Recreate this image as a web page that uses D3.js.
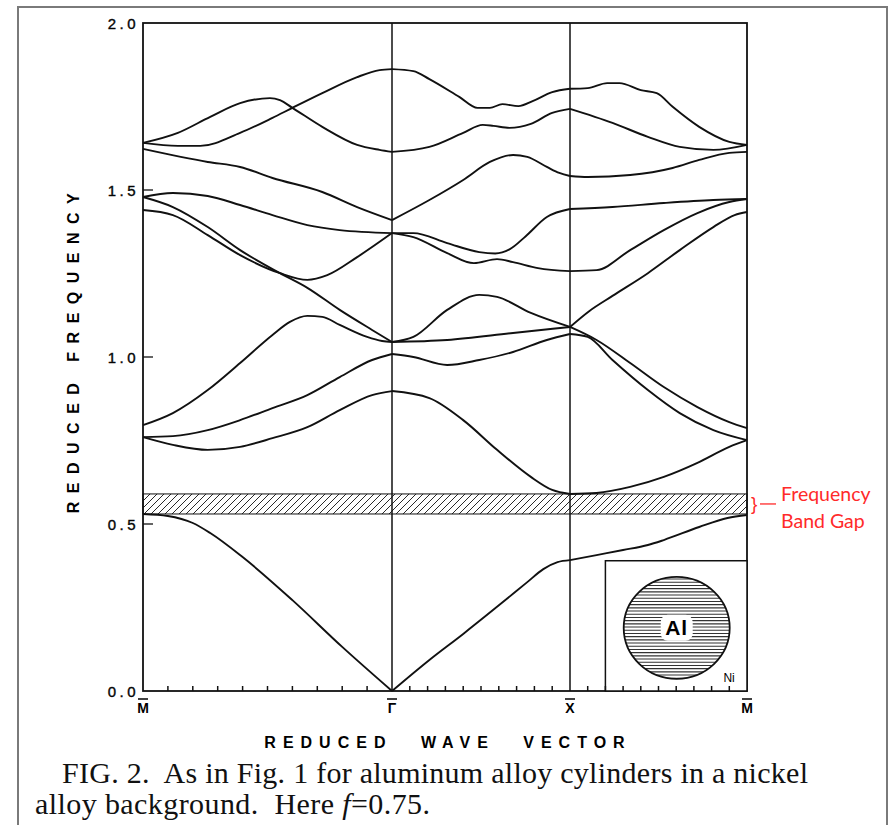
<!DOCTYPE html>
<html>
<head>
<meta charset="utf-8">
<script src="https://cdn.jsdelivr.net/npm/d3@7"></script>
<style>
  body { margin: 0; background: #fff; }
  svg { display: block; }
  text { white-space: pre; }
</style>
</head>
<body>
<svg id="chart" width="892" height="825"></svg>
<script>
// symmetry points along the path, one unit per segment
var kLabels = ["M", "\u0393", "X", "M"];
var yTicks = [0, 0.5, 1.0, 1.5, 2.0];
var gapBand = [0.53, 0.59];

// bands, [k, reduced frequency]
// segment M -> Gamma
var bandsMG = [
  [[0,0.530],[0.10,0.524],[0.20,0.503],[0.27,0.473],[0.40,0.401],[0.60,0.272],[0.80,0.132],[1,0]],
  [[0,0.760],[0.12,0.737],[0.26,0.722],[0.39,0.731],[0.52,0.757],[0.66,0.790],[0.79,0.841],[0.92,0.886],[1,0.898]],
  [[0,0.760],[0.12,0.763],[0.26,0.781],[0.39,0.811],[0.52,0.847],[0.66,0.886],[0.79,0.940],[0.92,0.991],[1,1.009]],
  [[0,0.796],[0.12,0.832],[0.26,0.901],[0.39,0.982],[0.52,1.066],[0.59,1.105],[0.66,1.123],[0.72,1.120],[0.79,1.096],[0.90,1.060],[0.96,1.048],[1,1.045]],
  [[0,1.479],[0.12,1.449],[0.26,1.389],[0.39,1.320],[0.55,1.251],[0.66,1.207],[0.79,1.141],[0.92,1.081],[1,1.045]],
  [[0,1.440],[0.12,1.425],[0.26,1.365],[0.39,1.305],[0.55,1.251],[0.66,1.231],[0.74,1.245],[0.86,1.299],[1,1.371]],
  [[0,1.479],[0.12,1.491],[0.26,1.482],[0.39,1.455],[0.52,1.425],[0.66,1.395],[0.79,1.380],[1,1.371]],
  [[0,1.623],[0.26,1.584],[0.39,1.569],[0.52,1.536],[0.72,1.494],[0.86,1.449],[1,1.410]],
  [[0,1.641],[0.14,1.671],[0.27,1.719],[0.39,1.760],[0.51,1.775],[0.55,1.769],[0.60,1.746],[0.72,1.689],[0.86,1.635],[0.95,1.620],[1,1.614]],
  [[0,1.641],[0.14,1.632],[0.23,1.632],[0.39,1.671],[0.52,1.716],[0.60,1.746],[0.72,1.790],[0.86,1.838],[0.95,1.859],[1,1.862]]
];

// segment Gamma -> X
var bandsGX = [
  [[1,0],[1.21,0.093],[1.40,0.171],[1.59,0.252],[1.76,0.326],[1.85,0.365],[1.93,0.386],[2,0.392]],
  [[1,0.898],[1.21,0.877],[1.40,0.811],[1.59,0.722],[1.78,0.641],[1.90,0.602],[2,0.590]],
  [[1,1.009],[1.12,1.000],[1.31,0.976],[1.49,0.991],[1.68,1.015],[1.87,1.051],[2,1.069]],
  [[1,1.045],[1.31,1.051],[1.68,1.072],[2,1.090]],
  [[1,1.045],[1.12,1.060],[1.31,1.141],[1.49,1.186],[1.59,1.180],[1.78,1.132],[2,1.090]],
  [[1,1.371],[1.12,1.359],[1.31,1.311],[1.46,1.281],[1.59,1.293],[1.68,1.284],[1.82,1.266],[2,1.257]],
  [[1,1.371],[1.12,1.371],[1.31,1.341],[1.49,1.314],[1.58,1.310],[1.66,1.322],[1.75,1.361],[1.87,1.419],[2,1.443]],
  [[1,1.410],[1.21,1.470],[1.40,1.530],[1.55,1.584],[1.68,1.605],[1.76,1.599],[1.87,1.569],[1.94,1.551],[2,1.542]],
  [[1,1.614],[1.21,1.629],[1.40,1.671],[1.51,1.695],[1.57,1.692],[1.66,1.686],[1.78,1.698],[1.90,1.731],[2,1.743]],
  [[1,1.862],[1.12,1.856],[1.21,1.832],[1.38,1.778],[1.48,1.746],[1.55,1.746],[1.62,1.757],[1.71,1.751],[1.79,1.766],[1.90,1.793],[2,1.803]]
];

// segment X -> M
var bandsXM = [
  [[2,0.392],[2.15,0.407],[2.30,0.422],[2.44,0.437],[2.53,0.452],[2.73,0.491],[2.89,0.518],[3,0.527]],
  [[2,0.590],[2.15,0.593],[2.34,0.611],[2.53,0.641],[2.72,0.683],[2.90,0.731],[3,0.751]],
  [[2,1.069],[2.10,1.060],[2.24,0.991],[2.44,0.901],[2.62,0.832],[2.81,0.781],[3,0.751]],
  [[2,1.090],[2.15,1.051],[2.34,0.982],[2.53,0.910],[2.72,0.850],[2.90,0.805],[3,0.787]],
  [[2,1.090],[2.11,1.138],[2.24,1.183],[2.44,1.251],[2.62,1.320],[2.81,1.389],[2.93,1.425],[3,1.434]],
  [[2,1.257],[2.15,1.260],[2.34,1.320],[2.53,1.380],[2.72,1.431],[2.90,1.464],[3,1.473]],
  [[2,1.443],[2.24,1.449],[2.53,1.461],[2.81,1.470],[3,1.473]],
  [[2,1.542],[2.10,1.539],[2.34,1.545],[2.58,1.566],[2.73,1.590],[2.90,1.611],[3,1.614]],
  [[2,1.743],[2.24,1.701],[2.44,1.659],[2.62,1.629],[2.81,1.620],[3,1.635]],
  [[2,1.803],[2.10,1.805],[2.21,1.820],[2.28,1.820],[2.40,1.799],[2.49,1.790],[2.58,1.749],[2.73,1.689],[2.90,1.644],[3,1.635]]
];

var caption1 = "FIG. 2.  As in Fig. 1 for aluminum alloy cylinders in a nickel";
var caption2a = "alloy background.  Here ";
var caption2b = "=0.75.";

var svg = d3.select("#chart");

var x = d3.scaleLinear().domain([0, 1, 2, 3]).range([143, 392, 570, 747]);
var y = d3.scaleLinear().domain([0, 2]).range([691, 23]);

// screenshot frame
svg.append("rect")
  .attr("x", 18).attr("y", 7)
  .attr("width", 869).attr("height", 840)
  .style("fill", "none")
  .style("stroke", "#7a7a7a")
  .style("stroke-width", 2);

var defs = svg.append("defs");
defs.append("pattern")
  .attr("id", "hatch")
  .attr("patternUnits", "userSpaceOnUse")
  .attr("width", 7).attr("height", 7)
  .append("path")
  .attr("d", "M-1,1 l2,-2 M0,7 l7,-7 M6,8 l2,-2")
  .style("stroke", "#111")
  .style("stroke-width", 0.9);

// band gap
svg.append("rect")
  .attr("x", x(0))
  .attr("y", y(gapBand[1]))
  .attr("width", x(3) - x(0))
  .attr("height", y(gapBand[0]) - y(gapBand[1]))
  .style("fill", "url(#hatch)")
  .style("stroke", "#111")
  .style("stroke-width", 1);

// plot frame and symmetry lines
svg.append("rect")
  .attr("x", x(0)).attr("y", y(2))
  .attr("width", x(3) - x(0)).attr("height", y(0) - y(2))
  .style("fill", "none")
  .style("stroke", "#111")
  .style("stroke-width", 1.8);

svg.selectAll("line.sym")
  .data([1, 2])
  .enter().append("line")
  .attr("class", "sym")
  .attr("x1", function (d) { return x(d); })
  .attr("x2", function (d) { return x(d); })
  .attr("y1", y(2)).attr("y2", y(0))
  .style("stroke", "#111")
  .style("stroke-width", 1.5);

// inset: Al cylinder in Ni
var inset = svg.append("g");
inset.append("rect")
  .attr("x", x(2.2)).attr("y", y(0.39))
  .attr("width", x(3) - x(2.2)).attr("height", y(0) - y(0.39))
  .style("fill", "#fff")
  .style("stroke", "#111")
  .style("stroke-width", 1.5);

var cx = (x(2.2) + x(3)) / 2 + 0.5;
var cy = (y(0.39) + y(0)) / 2 + 2;
defs.append("clipPath")
  .attr("id", "cyl")
  .append("ellipse")
  .attr("cx", cx).attr("cy", cy).attr("rx", 53).attr("ry", 51);

inset.append("g")
  .attr("clip-path", "url(#cyl)")
  .selectAll("line")
  .data(d3.range(cy - 52, cy + 52, 3.2))
  .enter().append("line")
  .attr("x1", cx - 55).attr("x2", cx + 55)
  .attr("y1", function (d) { return d; })
  .attr("y2", function (d) { return d; })
  .style("stroke", "#333")
  .style("stroke-width", 1.1);

inset.append("ellipse")
  .attr("cx", cx).attr("cy", cy).attr("rx", 53).attr("ry", 51)
  .style("fill", "none")
  .style("stroke", "#111")
  .style("stroke-width", 1.8);

inset.append("rect")
  .attr("x", cx - 16).attr("y", cy - 13)
  .attr("width", 32).attr("height", 26)
  .attr("rx", 7)
  .style("fill", "#fff");

inset.append("text")
  .attr("x", cx).attr("y", cy + 7.5)
  .attr("text-anchor", "middle")
  .attr("letter-spacing", "1px")
  .style("font-family", "'Liberation Sans', Arial, sans-serif")
  .style("font-weight", "bold")
  .style("font-size", "21px")
  .text("Al");

inset.append("text")
  .attr("x", x(2.2) + 118).attr("y", y(0) - 9)
  .style("font-family", "'Liberation Sans', Arial, sans-serif")
  .style("font-size", "12px")
  .text("Ni");

// bottom minor ticks, ten per segment
svg.selectAll("line.xtick")
  .data(d3.range(1, 30).filter(function (d) { return d % 10 !== 0; }))
  .enter().append("line")
  .attr("class", "xtick")
  .attr("x1", function (d) { return x(d / 10); })
  .attr("x2", function (d) { return x(d / 10); })
  .attr("y1", y(0)).attr("y2", y(0) - 5)
  .style("stroke", "#111")
  .style("stroke-width", 1.5);

// left ticks and labels
svg.selectAll("line.ytick")
  .data([0.5, 1.0, 1.5])
  .enter().append("line")
  .attr("class", "ytick")
  .attr("x1", x(0)).attr("x2", x(0) + 10)
  .attr("y1", function (d) { return y(d); })
  .attr("y2", function (d) { return y(d); })
  .style("stroke", "#111")
  .style("stroke-width", 1.3);

svg.selectAll("text.ylab")
  .data(yTicks)
  .enter().append("text")
  .attr("class", "ylab")
  .attr("x", 139)
  .attr("y", function (d) { return y(d) + 5.5; })
  .attr("text-anchor", "end")
  .attr("letter-spacing", "3.5px")
  .style("font-family", "'Liberation Sans', Arial, sans-serif")
  .style("font-size", "15px")
  .style("stroke", "#111")
  .style("stroke-width", 0.4)
  .text(function (d) { return d.toFixed(1); });

// symmetry point labels with overbars
var kl = svg.selectAll("g.klab")
  .data(kLabels)
  .enter().append("g")
  .attr("class", "klab")
  .attr("transform", function (d, i) { return "translate(" + x(i) + ",0)"; });

kl.append("text")
  .attr("x", 0).attr("y", 713)
  .attr("text-anchor", "middle")
  .style("font-family", "'Liberation Sans', Arial, sans-serif")
  .style("font-weight", "bold")
  .style("font-size", "14px")
  .text(function (d) { return d; });

kl.append("line")
  .attr("x1", -5).attr("x2", 5)
  .attr("y1", 699).attr("y2", 699)
  .style("stroke", "#111")
  .style("stroke-width", 1.6);

// bands
var line = d3.line()
  .x(function (d) { return x(d[0]); })
  .y(function (d) { return y(d[1]); })
  .curve(d3.curveMonotoneX);

svg.append("g")
  .selectAll("path")
  .data(bandsMG.concat(bandsGX, bandsXM))
  .enter().append("path")
  .attr("d", line)
  .style("fill", "none")
  .style("stroke", "#111")
  .style("stroke-width", 1.9)
  .style("stroke-linejoin", "round");

// axis titles
svg.append("text")
  .attr("transform", "translate(79,349) rotate(-90)")
  .attr("text-anchor", "middle")
  .attr("letter-spacing", "8.5px")
  .style("font-family", "'Liberation Sans', Arial, sans-serif")
  .style("font-weight", "bold")
  .style("font-size", "16px")
  .text("REDUCED FREQUENCY");

svg.append("text")
  .attr("x", 448).attr("y", 748)
  .attr("text-anchor", "middle")
  .attr("letter-spacing", "7px")
  .attr("word-spacing", "17px")
  .style("font-family", "'Liberation Sans', Arial, sans-serif")
  .style("font-weight", "bold")
  .style("font-size", "16px")
  .text("REDUCED WAVE VECTOR");

// caption
var cap = svg.append("g")
  .style("font-family", "'Liberation Serif', 'Times New Roman', serif")
  .style("font-size", "30px")
  .style("fill", "#111");

cap.append("text").attr("x", 62).attr("y", 783)
  .attr("textLength", 746).attr("lengthAdjust", "spacing")
  .text(caption1);
var c2 = cap.append("text").attr("x", 35).attr("y", 814)
  .attr("textLength", 395).attr("lengthAdjust", "spacing");
c2.append("tspan").text(caption2a);
c2.append("tspan").style("font-style", "italic").text("f");
c2.append("tspan").text(caption2b);

// red annotation for the gap
var note = svg.append("g").style("fill", "#ff2a2a");
note.append("text")
  .attr("x", 751).attr("y", y(0.56) + 6)
  .style("font-family", "'Liberation Sans', Arial, sans-serif")
  .style("font-size", "19px")
  .text("}");
note.append("line")
  .attr("x1", 760).attr("x2", 776)
  .attr("y1", y(0.56)).attr("y2", y(0.56))
  .style("stroke", "#ff2a2a")
  .style("stroke-width", 1.3);
note.append("text")
  .attr("x", 781).attr("y", 501)
  .style("font-family", "Lato, 'Open Sans', sans-serif")
  .style("font-size", "19.5px")
  .text("Frequency");
note.append("text")
  .attr("x", 781).attr("y", 528)
  .style("font-family", "Lato, 'Open Sans', sans-serif")
  .style("font-size", "19.5px")
  .text("Band Gap");
</script>
</body>
</html>
